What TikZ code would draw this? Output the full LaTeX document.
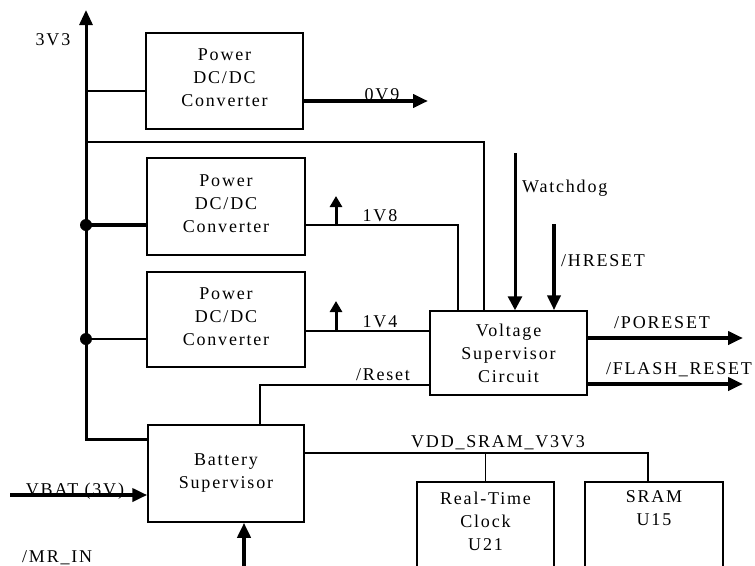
\documentclass[tikz,border=0pt]{standalone}
\usepackage{fontspec}
\setmainfont{Liberation Serif}[LetterSpace=10]
\usetikzlibrary{arrows.meta}
\begin{document}
\begin{tikzpicture}[x=1pt,y=-1pt,
  txtfont/.style={font=\fontsize{18}{23}\selectfont},
  box/.style={draw, line width=1.5pt, inner sep=0pt, align=center, txtfont},
  lbl/.style={inner sep=0pt, txtfont},
  wire/.style={line width=1.5pt},
  bus/.style={line width=3pt},
  sig/.style={line width=3.8pt, -{Triangle[length=15pt,width=13pt]}},
  sigthin/.style={line width=3pt, -{Triangle[length=14pt,width=14pt]}},
  uparrow/.style={line width=3pt, -{Triangle[length=11pt,width=12pt]}},
  dot/.style={circle, fill, inner sep=0pt, minimum size=12pt}]
\useasboundingbox (0,0) rectangle (755,565);
\clip (0,0) rectangle (755,565);
\fill[white] (0,0) rectangle (755,565);

% boxes
\node[box, minimum width=157pt, minimum height=96pt] (p1) at (224.5,81) {Power\\DC/DC\\Converter\\[-17pt]};
\node[box, minimum width=158pt, minimum height=97pt] (p2) at (226,206.5) {Power\\DC/DC\\Converter\\[-17pt]};
\node[box, minimum width=158pt, minimum height=95pt] (p3) at (226,319.5) {Power\\DC/DC\\Converter\\[-17pt]};
\node[box, minimum width=157pt, minimum height=84pt] (vs) at (508.5,353) {Voltage\\Supervisor\\Circuit};
\node[box, minimum width=156pt, minimum height=97pt] (bat) at (226,473.5) {Battery\\Supervisor};
\node[box, minimum width=137pt, minimum height=110pt, anchor=north] (rtc) at (485.5,481) {};
\node[lbl, align=center, anchor=north] (rtctxt) at ([yshift=-11pt]rtc.north) {Real-Time\\Clock\\U21};
\node[box, minimum width=138pt, minimum height=110pt, anchor=north] (sram) at (654,481) {};
\node[lbl, align=center, anchor=north] (sramtxt) at ([yshift=-9pt]sram.north) {SRAM\\U15};

% bus
\coordinate (bustop) at (86,10);
\coordinate (buscorner) at (86,439);
\draw[bus, -{Triangle[length=15pt,width=13pt]}] (buscorner -| bat.west) -- (buscorner) -- (bustop);
\node[lbl] (l3v3) at (53,40) {3V3};

% branches
\coordinate (b1) at (86,91);
\draw[wire] (b1) -- (b1 -| p1.west);
\coordinate (b0) at (86,142);
\coordinate (vsin) at (484,142);
\draw[wire] (b0) -- (vsin) -- (vsin |- vs.north);
\coordinate (b2) at (86,225);
\draw[line width=3.4pt] (b2) -- (b2 -| p2.west);
\node[dot] (d2) at (b2) {};
\coordinate (b3) at (86,339);
\draw[line width=2.4pt] (b3) -- (b3 -| p3.west);
\node[dot] (d3) at (b3) {};

% 0V9
\coordinate (o9) at (428,101);
\draw[sig] (o9 -| p1.east) -- (o9);
\node[lbl, anchor=base] (l0v9) at (382,100) {0V9};

% 1V8
\coordinate (v18) at (458,225);
\draw[wire] (v18 -| p2.east) -- (v18) -- (v18 |- vs.north);
\coordinate (u18) at (336,226);
\draw[uparrow] (u18) -- ++(0,-30);
\node[lbl] (l1v8) at (380,216) {1V8};

% 1V4
\coordinate (v14) at (336,331);
\draw[wire] (v14 -| p3.east) -- (v14 -| vs.west);
\draw[uparrow] (v14) -- ++(0,-30);
\node[lbl] (l1v4) at (380,322) {1V4};

% /Reset
\coordinate (rs) at (260,385);
\draw[wire] (rs -| vs.west) -- (rs) -- (rs |- bat.north);
\node[lbl] (lreset) at (383,375) {/Reset};

% Watchdog, HRESET
\coordinate (wd) at (515,153);
\draw[sigthin] (wd) -- (wd |- vs.north);
\node[lbl, anchor=west] (lwd) at (522,188) {Watchdog};
\coordinate (hr) at (554,224);
\draw[sig] (hr) -- (hr |- vs.north);
\node[lbl, anchor=west] (lhr) at (561,261) {/HRESET};

% outputs
\coordinate (po) at (743,338);
\draw[sig] (po -| vs.east) -- (po);
\node[lbl] (lpo) at (662,323) {/PORESET};
\coordinate (fr) at (743,384);
\draw[sig] (fr -| vs.east) -- (fr);
\node[lbl] (lfr) at (679,370) {/FLASH\_RESET};

% VDD
\coordinate (vdd) at (648,453);
\draw[wire] (vdd -| bat.east) -- (vdd) -- (vdd |- sram.north);
\draw[wire] (vdd -| rtc.north) -- (rtc.north);
\node[lbl] (lvdd) at (498,443) {VDD\_SRAM\_V3V3};

% VBAT
\coordinate (vb) at (10,495);
\draw[sig] (vb) -- (vb -| bat.west);
\node[lbl, anchor=base] (lvb) at (75,495) {VBAT (3V)};

% MR_IN
\coordinate (mr) at (244,580);
\draw[sig] (mr) -- (mr |- bat.south);
\node[lbl, anchor=base west] (lmr) at (22,562) {/MR\_IN};
\end{tikzpicture}
\end{document}
